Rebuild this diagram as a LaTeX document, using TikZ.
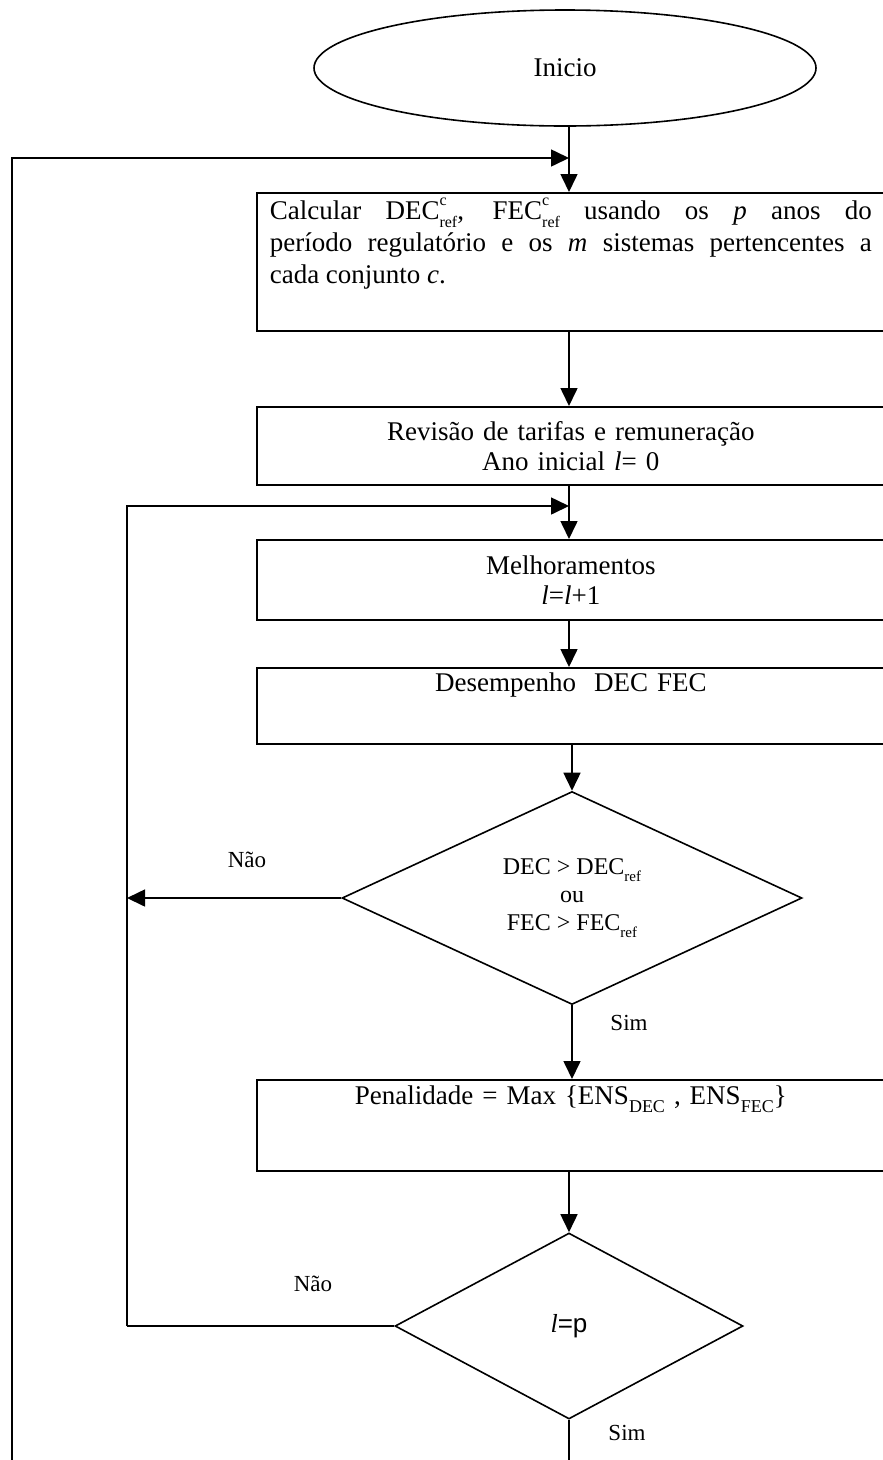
\documentclass[tikz,border=0pt]{standalone}
\usepackage{fontspec}
\setmainfont{Liberation Serif}
\setsansfont{Liberation Sans}
\usetikzlibrary{arrows.meta,shapes.geometric}

% stacked super/subscript and plain subscript in text
\newcommand{\supsub}[2]{\makebox[0pt][l]{\raisebox{0.52em}{\fontsize{16}{16}\selectfont #1}}\raisebox{-0.3em}{\fontsize{16}{16}\selectfont #2}}
\newcommand{\lowtxt}[2]{\raisebox{-0.3em}{\fontsize{#1}{#1}\selectfont #2}}

\tikzset{
  line/.style={line width=1.6pt},
  flow/.style={line, -{Triangle[length=18pt,width=17pt]}},
  box/.style={draw, line, rectangle, anchor=north west, inner xsep=13pt,
    inner ysep=0pt, text width=602pt, align=center,
    font=\fontsize{27}{30}\selectfont},
  decision/.style={draw, line, diamond, inner sep=0pt, aspect=2,
    align=center, font=\fontsize{24}{28}\selectfont},
  terminal/.style={draw, line, ellipse, inner sep=0pt,
    font=\fontsize{27}{31}\selectfont},
  lbl/.style={font=\fontsize{23}{26}\selectfont, inner sep=0pt},
}

\begin{document}
\begin{tikzpicture}[x=1pt,y=-1pt]
\useasboundingbox (0,0) rectangle (883,1460);

% nodes
\node[terminal, minimum width=502pt, minimum height=116pt] (start) at (565,68) {Inicio};

\node[box, align=justify, text height=27pt, text depth=111pt,
      font=\fontsize{27}{32}\selectfont] (calc) at (256,192)
  {Calcular DEC\supsub{c}{ref}, FEC\supsub{c}{ref} usando os \textit{p} anos do\linebreak
   período regulatório e os \textit{m} sistemas pertencentes a\linebreak
   cada conjunto \textit{c}.};

\node[box, minimum height=78pt] (rev) at (256,406)
  {Revisão de tarifas e remuneração\\Ano inicial \textit{l}= 0};

\node[box, minimum height=80pt] (melh) at (256,539)
  {Melhoramentos\\\textit{l}=\textit{l}+1};

\node[box, text height=24pt, text depth=52pt] (des) at (256,667)
  {Desempenho\ \ DEC FEC};

\node[decision, minimum width=460pt, minimum height=213pt] (d1) at (572,898)
  {DEC > DEC\lowtxt{15}{ref}\\ou\\FEC > FEC\lowtxt{15}{ref}};

\node[box, text height=25pt, text depth=66pt] (pen) at (256,1079)
  {Penalidade = Max \{ENS\lowtxt{18}{DEC} , ENS\lowtxt{18}{FEC}\}\hspace*{20pt}};

\node[decision, minimum width=348pt, minimum height=186pt,
      font=\fontsize{26}{30}\selectfont] (d2) at (569,1326)
  {\textit{l}{\sffamily =p}};

% loop corners and free ends
\coordinate (outerbot) at (12,1460);
\coordinate (outertop) at (12,158);
\coordinate (outerjoin) at (569,158);
\coordinate (innertop) at (127,506);
\coordinate (innerjoin) at (569,506);
\coordinate (innerno) at (127,898);
\coordinate (innerbot) at (127,1326);
\coordinate (endsim) at (569,1460);

% connectors
\draw[flow] (start.south -| outerjoin) -- (calc.north -| outerjoin);
\draw[flow] (outerbot) -- (outertop) -- (outerjoin);
\draw[flow] (calc.south -| outerjoin) -- (rev.north -| outerjoin);
\draw[line] (rev.south -| innerjoin) -- (innerjoin);
\draw[flow] (innerjoin) -- (melh.north -| innerjoin);
\draw[flow] (innerbot) -- (innertop) -- (innerjoin);
\draw[flow] (melh.south -| innerjoin) -- (des.north -| innerjoin);
\draw[flow] (des.south -| d1.north) -- (d1.north);
\draw[flow] (d1.west) -- (innerno);
\draw[flow] (d1.south) -- (pen.north -| d1.south);
\draw[flow] (pen.south -| d2.north) -- (d2.north);
\draw[line] (d2.west) -- (innerbot);
\draw[line] (d2.south) -- (endsim);

% branch labels
\node[lbl] (nao1) at (247,860) {Não};
\node[lbl] (sim1) at (629,1023) {Sim};
\node[lbl] (nao2) at (313,1284) {Não};
\node[lbl] (sim2) at (627,1433) {Sim};
\end{tikzpicture}
\end{document}
